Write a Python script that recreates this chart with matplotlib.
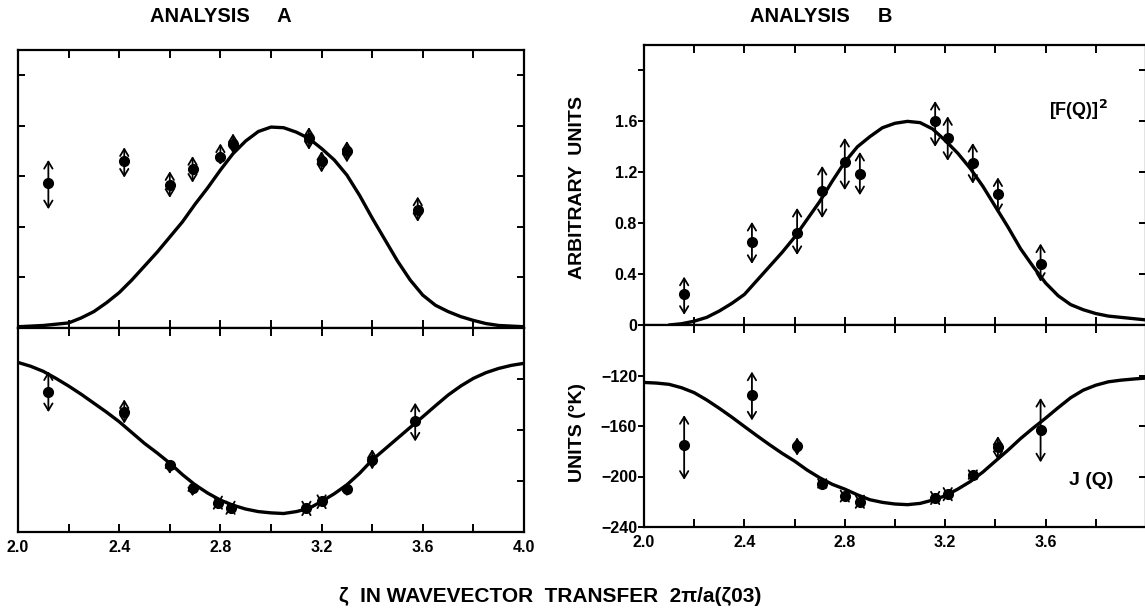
import numpy as np
import matplotlib
matplotlib.use("Agg")
import matplotlib.pyplot as plt

plt.rcParams['font.family'] = ['Liberation Sans', 'DejaVu Sans']
plt.rcParams['font.weight'] = 'bold'
plt.rcParams['mathtext.default'] = 'bf'
plt.rcParams['axes.linewidth'] = 1.6

# --- fitted curves, sampled every 0.05 in zeta ---
zeta = np.round(np.arange(2.0, 4.001, 0.05), 2)

curve_a_f2 = [0.01, 0.015, 0.02, 0.03, 0.04, 0.08, 0.13, 0.20, 0.28, 0.38,
              0.49, 0.60, 0.72, 0.84, 0.98, 1.11, 1.25, 1.38, 1.48, 1.555,
              1.59, 1.585, 1.55, 1.50, 1.42, 1.33, 1.21, 1.05, 0.87, 0.70,
              0.53, 0.38, 0.26, 0.18, 0.13, 0.09, 0.06, 0.035, 0.02, 0.015,
              0.01]
curve_a_j = [-107, -110, -114, -119.5, -125.5, -132, -139, -146, -153.5, -162,
             -170.5, -178, -186, -195, -203, -209.5, -215, -219, -222, -224,
             -225, -225.5, -224, -221.5, -216, -210, -203, -194, -183.5, -175,
             -166.5, -158, -149.6, -141, -132.6, -125.5, -119.5, -115, -111.7, -109.3,
             -107.7]

# analysis B curve for [F(Q)]^2 starts at zeta = 2.10
curve_b_f2_x = zeta[2:]
curve_b_f2 = [0.0, 0.01, 0.03, 0.06, 0.11, 0.17, 0.24, 0.35,
              0.46, 0.57, 0.69, 0.83, 0.97, 1.13, 1.28, 1.40, 1.48, 1.55,
              1.585, 1.60, 1.59, 1.54, 1.45, 1.35, 1.23, 1.09, 0.93, 0.77,
              0.60, 0.46, 0.33, 0.23, 0.16, 0.12, 0.09, 0.07, 0.06, 0.05,
              0.04]
curve_b_j = [-125.5, -126, -127, -129.7, -133.6, -139.4, -146, -153, -160.4, -167.7,
             -174.8, -181.6, -187.8, -194.9, -201, -206.2, -210, -214.5, -218.4, -220.5,
             -221.8, -222.3, -221.3, -218.7, -215.3, -210, -204, -196.5, -187.8, -179.2,
             -170, -161.7, -153.8, -145.5, -137.6, -131.6, -127.7, -125, -123.7, -122.8,
             -122]

# --- measured points, analysis A ---
a_f2_x = [2.12, 2.42, 2.60, 2.69, 2.80, 2.85, 3.15, 3.20, 3.30, 3.58]
a_f2 = [1.15, 1.32, 1.13, 1.26, 1.35, 1.46, 1.50, 1.32, 1.40, 0.93]
a_f2_hi = [1.33, 1.43, 1.24, 1.36, 1.46, 1.54, 1.59, 1.40, 1.48, 1.04]
a_f2_lo = [0.94, 1.19, 1.03, 1.15, 1.29, 1.38, 1.41, 1.23, 1.31, 0.84]

a_j_x = [2.12, 2.42, 2.60, 2.69, 2.79, 2.84, 3.14, 3.20, 3.30, 3.40, 3.57]
a_j = [-130, -145.7, -187.5, -205.7, -217, -221, -221.4, -216, -206.3, -183.5, -152.8]
a_j_hi = [-114, -136, -183, -201, -215, -219, -220, -214.5, -201, -175, -138.6]
a_j_lo = [-146, -155, -194.5, -212, -219, -223, -223, -218, -212, -191, -169]

# --- measured points, analysis B ---
b_x = [2.16, 2.43, 2.61, 2.71, 2.80, 2.86, 3.16, 3.21, 3.31, 3.41, 3.58]
b_f2 = [0.24, 0.65, 0.72, 1.05, 1.28, 1.19, 1.60, 1.47, 1.27, 1.03, 0.48]
b_f2_hi = [0.38, 0.81, 0.92, 1.25, 1.47, 1.36, 1.76, 1.64, 1.43, 1.16, 0.64]
b_f2_lo = [0.08, 0.48, 0.55, 0.84, 1.06, 1.02, 1.40, 1.29, 1.11, 0.88, 0.34]

b_j = [-175.2, -135.2, -175.7, -205.7, -215.5, -220.2, -217, -214.1, -198.7, -177, -163.4]
b_j_hi = [-151.4, -116.9, -169, -202, -213, -218, -215, -212, -195, -168, -137.8]
b_j_lo = [-202.6, -155.6, -183.5, -209, -218, -222, -219, -216, -202, -187, -188.8]

x_ticks = [2.0, 2.2, 2.4, 2.6, 2.8, 3.0, 3.2, 3.4, 3.6, 3.8, 4.0]
x_labels_a = ['2.0', '', '2.4', '', '2.8', '', '3.2', '', '3.6', '', '4.0']
x_labels_b = ['2.0', '', '2.4', '', '2.8', '', '3.2', '', '3.6', '', '']
f2_ticks = [0, 0.4, 0.8, 1.2, 1.6, 2.0]
f2_labels = ['0', '0.4', '0.8', '1.2', '1.6', '']
j_ticks = [-240, -200, -160, -120]
j_labels = ['\u2212240', '\u2212200', '\u2212160', '\u2212120']


def draw_points(ax, x, y, lo, hi):
    """Dots with double-headed arrows showing the spread."""
    for xi, l, h in zip(x, lo, hi):
        ax.annotate('', xy=(xi, h), xytext=(xi, l),
                    arrowprops=dict(arrowstyle='<->,head_length=0.5,head_width=0.3',
                                    lw=1.3, color='k', shrinkA=0, shrinkB=0))
    ax.plot(x, y, 'o', color='k', ms=7, zorder=4)


def setup(ax, ylim, yticks):
    ax.set_xlim(2.0, 4.0)
    ax.set_ylim(*ylim)
    ax.set_xticks(x_ticks)
    ax.set_yticks(yticks)
    ax.tick_params(axis='x', direction='in', top=True, bottom=True,
                   length=5.5, width=1.4, labelsize=11.5, pad=6)
    ax.tick_params(axis='y', length=5, width=1.4, labelsize=11.5)


fig = plt.figure(figsize=(11.45, 6.10), dpi=100)

# analysis A
ax1 = fig.add_axes([18 / 1145, 1 - 328 / 610, 506 / 1145, 278 / 610])
ax2 = fig.add_axes([18 / 1145, 1 - 532 / 610, 506 / 1145, 204 / 610])
# analysis B
ax3 = fig.add_axes([644 / 1145, 1 - 325 / 610, 502 / 1145, 280 / 610])
ax4 = fig.add_axes([644 / 1145, 1 - 527 / 610, 502 / 1145, 202 / 610])

for ax in (ax1, ax3):
    setup(ax, (0, 2.2), f2_ticks)
    ax.tick_params(axis='x', labelbottom=False)
for ax in (ax2, ax4):
    setup(ax, (-240, -80), j_ticks)

# A panels: ticks inside on both sides, no y labels
for ax in (ax1, ax2):
    ax.tick_params(axis='y', direction='in', left=True, right=True, labelleft=False)
ax2.tick_params(axis='y', left=False)
ax2.set_xticklabels(x_labels_a)

# B panels: labelled ticks outside on the left, plain ticks inside on the right
for ax, ticks, labels in ((ax3, f2_ticks, f2_labels), (ax4, j_ticks, j_labels)):
    ax.tick_params(axis='y', direction='out', length=4, pad=1)
    ax.set_yticklabels(labels)
    sec = ax.secondary_yaxis('right')
    sec.set_yticks(ticks)
    sec.tick_params(direction='in', length=5, width=1.4, labelright=False)
ax4.set_xticklabels(x_labels_b)

ax1.plot(zeta, curve_a_f2, color='k', lw=2.4, solid_capstyle='round')
ax2.plot(zeta, curve_a_j, color='k', lw=2.4, solid_capstyle='round')
ax3.plot(curve_b_f2_x, curve_b_f2, color='k', lw=2.4, solid_capstyle='round')
ax4.plot(zeta, curve_b_j, color='k', lw=2.4, solid_capstyle='round')

draw_points(ax1, a_f2_x, a_f2, a_f2_lo, a_f2_hi)
draw_points(ax2, a_j_x, a_j, a_j_lo, a_j_hi)
draw_points(ax3, b_x, b_f2, b_f2_lo, b_f2_hi)
draw_points(ax4, b_x, b_j, b_j_lo, b_j_hi)

ax3.text(3.73, 1.69, '[F(Q)]$^{2}$', fontsize=13, ha='center', va='center')
ax4.text(3.78, -203, 'J (Q)', fontsize=14, ha='center', va='center')

fig.text(221 / 1145, 1 - 16 / 610, 'ANALYSIS     A', fontsize=14.5, ha='center', va='center')
fig.text(821 / 1145, 1 - 16 / 610, 'ANALYSIS     B', fontsize=14.5, ha='center', va='center')
fig.text(577 / 1145, 1 - 188 / 610, 'ARBITRARY  UNITS', fontsize=14, rotation=90,
         ha='center', va='center')
fig.text(577 / 1145, 1 - 432 / 610, 'UNITS (\u00b0K)', fontsize=14, rotation=90,
         ha='center', va='center')
fig.text(550 / 1145, 1 - 596 / 610, '\u03b6  IN WAVEVECTOR  TRANSFER  2\u03c0/a(\u03b603)',
         fontsize=15, ha='center', va='center')

fig.savefig('out.png', dpi=100)
